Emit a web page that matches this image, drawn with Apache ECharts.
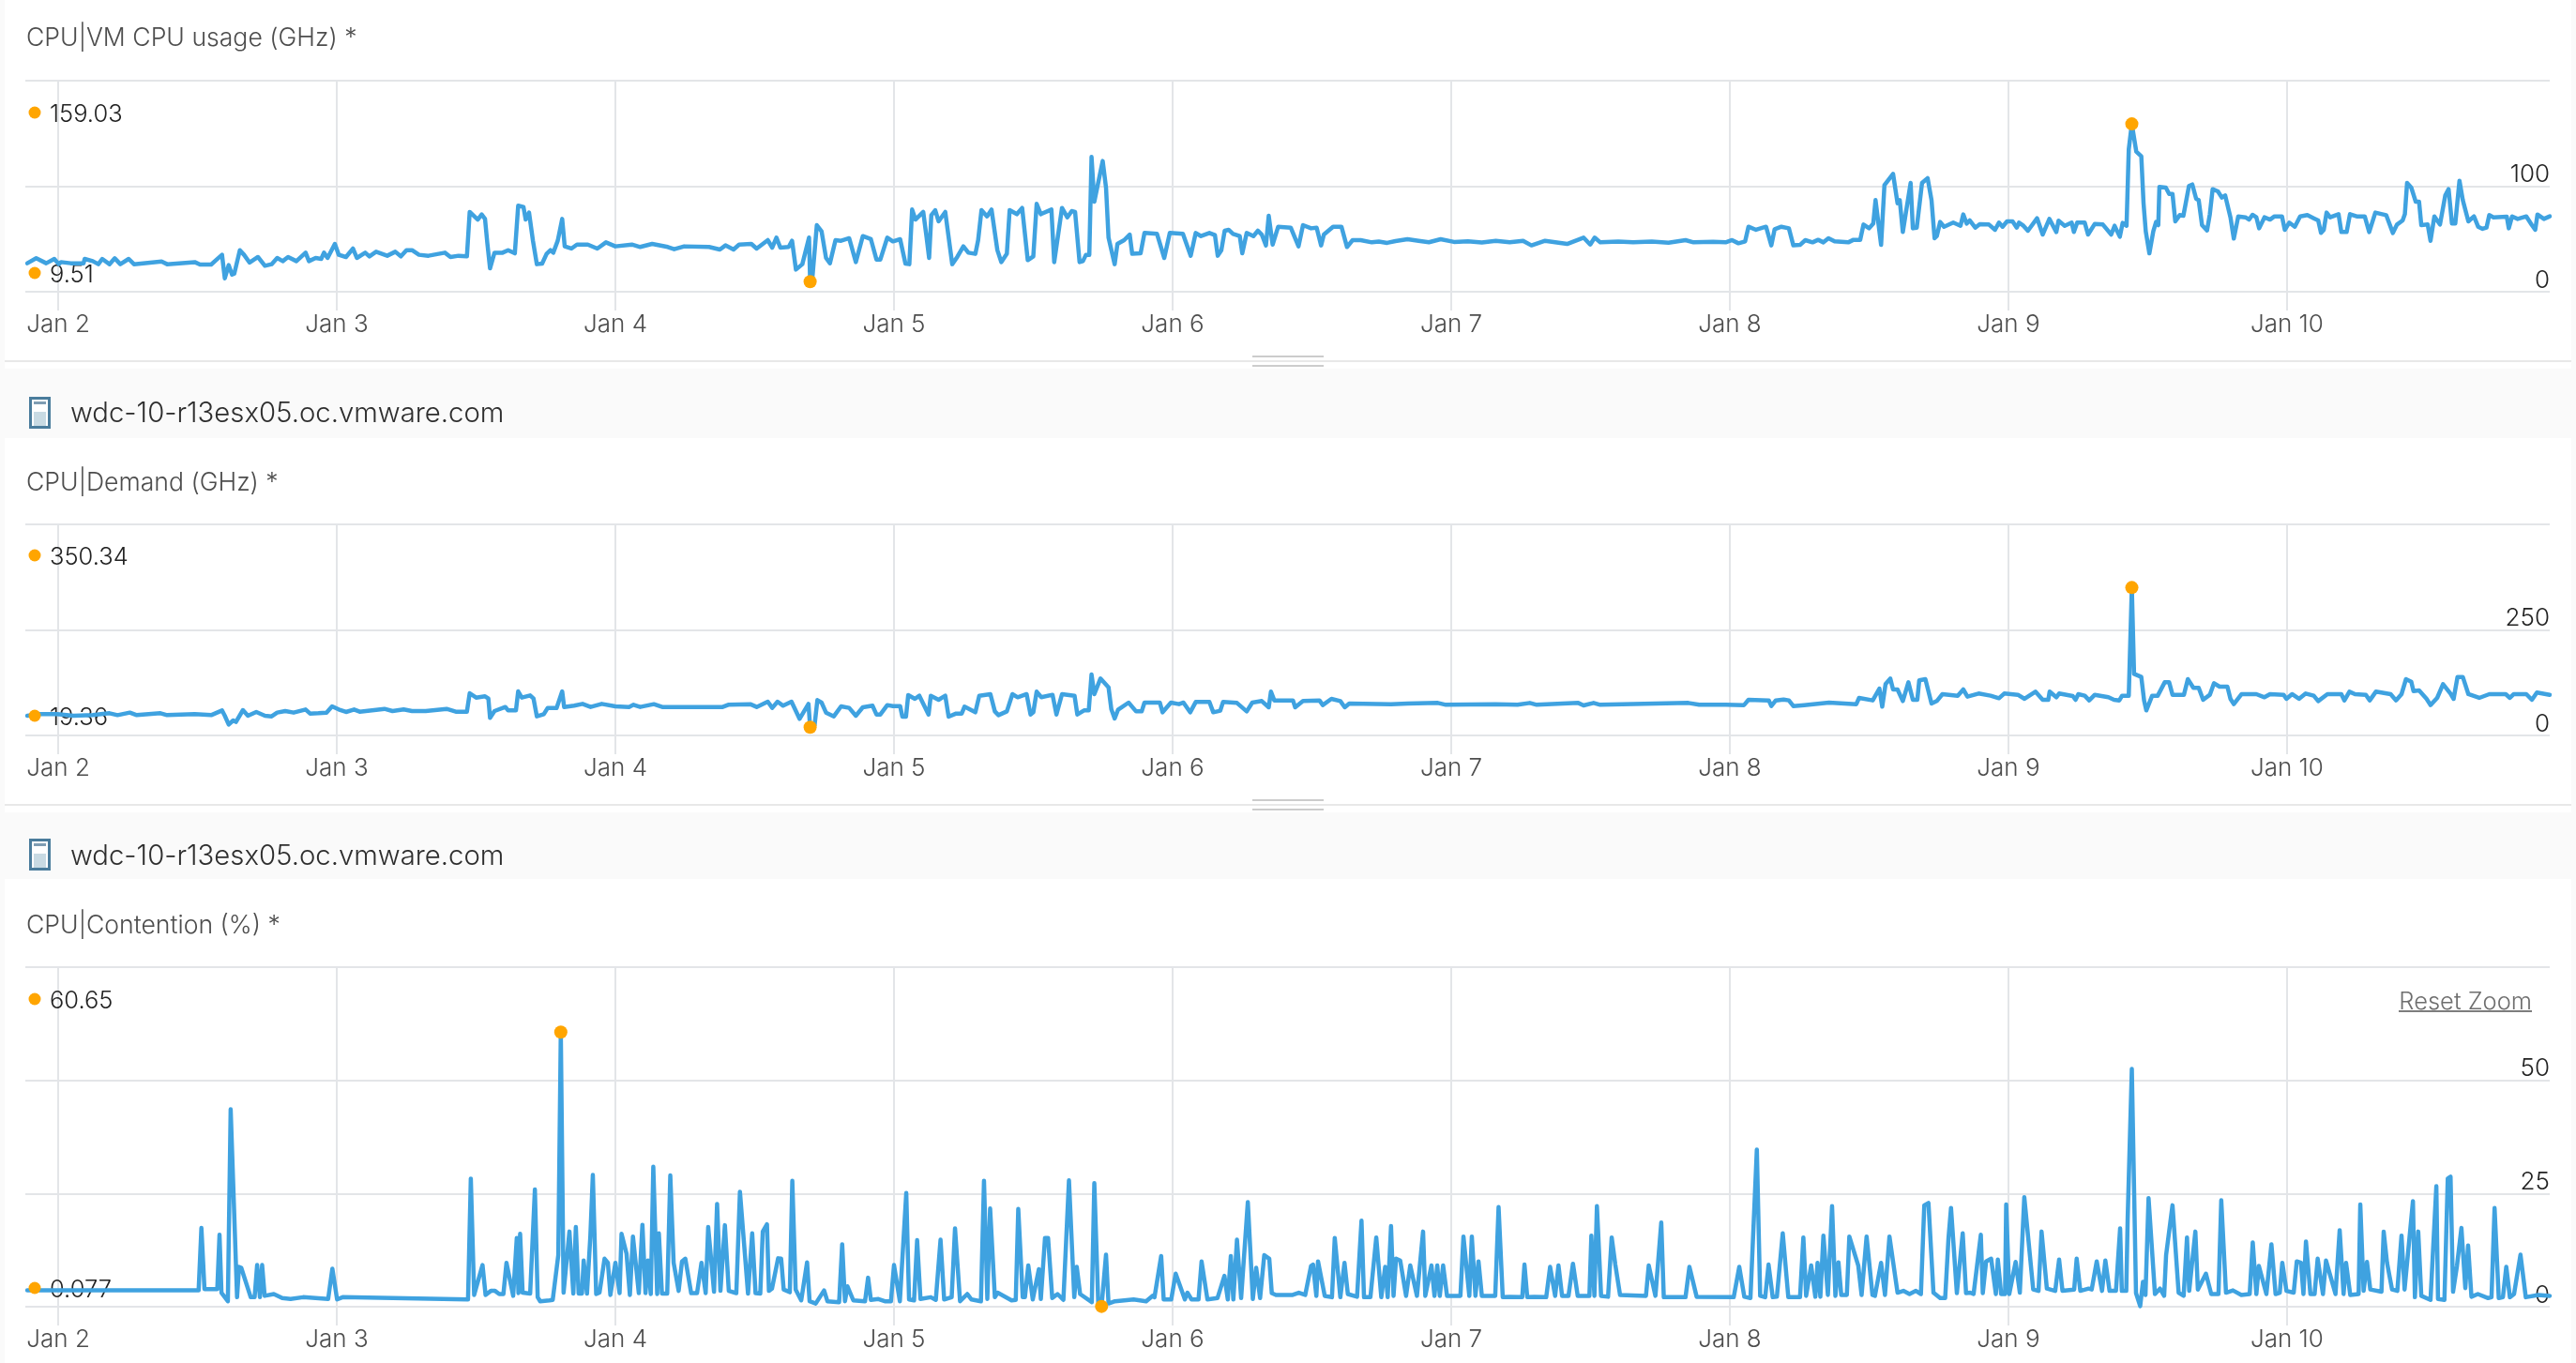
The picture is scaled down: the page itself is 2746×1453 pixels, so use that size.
<!DOCTYPE html>
<html>
<head>
<meta charset="utf-8">
<title>Host CPU metrics</title>
<style>
  html, body { margin: 0; padding: 0; background: #fafafa; }
  #chart { width: 2746px; height: 1453px; }
</style>
<script src="https://cdn.jsdelivr.net/npm/echarts@6/dist/echarts.min.js"></script>
</head>
<body>
<div id="chart"></div>
<script>
// Day ticks along the shared time range. Times below are days after Jan 2 00:00.
const dayTicks = [0, 1, 2, 3, 4, 5, 6, 7, 8];
const dayLabels = ['Jan 2', 'Jan 3', 'Jan 4', 'Jan 5', 'Jan 6', 'Jan 7', 'Jan 8', 'Jan 9', 'Jan 10'];
const rangeStart = -0.118;
const rangeEnd = 8.943;

const hostName = 'wdc-10-r13esx05.oc.vmware.com';

// CPU|VM CPU usage (GHz): [day, value]
const vmCpuUsage = [
[-0.111,27.0],[-0.079,31.7],[-0.043,27.0],[-0.014,31.1],[0.002,26.1],[0.010,28.1],[0.045,27.0],[0.091,27.0],[0.095,31.1],[0.124,29.0],[0.144,26.1],[0.158,31.1],[0.184,26.1],[0.203,31.7],[0.223,26.1],[0.253,31.1],[0.272,26.1],[0.371,28.7],[0.391,26.1],[0.490,28.1],[0.509,25.8],[0.549,25.8],[0.569,30.5],[0.588,35.0],[0.598,12.7],[0.612,25.2],[0.624,16.3],[0.632,17.2],[0.652,39.4],[0.667,35.0],[0.687,27.6],[0.717,32.9],[0.742,24.6],[0.766,26.1],[0.786,32.0],[0.806,29.0],[0.825,32.9],[0.855,29.0],[0.888,37.0],[0.900,29.0],[0.924,32.0],[0.944,31.1],[0.954,37.0],[0.967,32.0],[0.993,45.3],[1.007,35.0],[1.033,32.9],[1.058,40.9],[1.072,32.0],[1.102,37.0],[1.117,33.5],[1.141,37.9],[1.181,34.1],[1.210,37.9],[1.230,33.5],[1.250,39.4],[1.270,39.4],[1.295,35.0],[1.329,34.1],[1.388,37.0],[1.408,32.9],[1.437,34.1],[1.467,33.5],[1.477,75.6],[1.506,68.4],[1.520,73.2],[1.532,69.0],[1.540,46.8],[1.550,22.2],[1.566,37.0],[1.595,37.0],[1.615,39.4],[1.639,36.4],[1.651,81.5],[1.670,80.3],[1.678,68.4],[1.690,75.0],[1.704,48.3],[1.718,26.1],[1.737,26.7],[1.753,35.9],[1.767,39.4],[1.777,37.0],[1.793,48.3],[1.809,69.0],[1.818,43.0],[1.842,40.9],[1.862,44.7],[1.901,44.7],[1.935,40.9],[1.966,46.8],[2.000,43.0],[2.059,44.7],[2.089,42.4],[2.132,45.3],[2.188,42.4],[2.211,40.3],[2.247,43.0],[2.336,42.4],[2.375,40.0],[2.395,43.9],[2.424,40.0],[2.444,44.7],[2.488,45.3],[2.507,40.9],[2.547,48.9],[2.563,41.8],[2.578,51.3],[2.592,41.8],[2.622,42.4],[2.634,48.3],[2.648,21.0],[2.671,26.1],[2.695,51.3],[2.699,9.51],[2.707,13.3],[2.723,63.1],[2.740,57.2],[2.756,32.0],[2.770,27.0],[2.790,48.9],[2.810,48.3],[2.839,50.7],[2.863,28.1],[2.888,52.7],
[2.917,49.8],[2.937,30.5],[2.951,30.5],[2.976,51.3],[2.996,47.7],[3.022,49.8],[3.041,26.7],[3.055,26.1],[3.065,77.9],[3.077,68.4],[3.105,75.6],[3.117,51.3],[3.126,32.0],[3.134,72.6],[3.148,77.3],[3.160,66.7],[3.184,75.6],[3.209,26.1],[3.227,32.9],[3.249,43.0],[3.267,37.0],[3.292,35.9],[3.302,48.9],[3.314,77.3],[3.334,71.4],[3.350,77.9],[3.371,39.4],[3.385,28.1],[3.405,35.9],[3.415,77.3],[3.441,73.5],[3.460,79.4],[3.480,29.9],[3.500,33.5],[3.512,83.3],[3.527,73.5],[3.565,77.9],[3.575,28.1],[3.603,79.4],[3.622,70.5],[3.638,76.4],[3.650,75.6],[3.666,28.1],[3.678,29.0],[3.689,35.0],[3.701,35.0],[3.709,127.7],[3.719,85.3],[3.749,123.9],[3.761,98.7],[3.770,51.3],[3.792,26.1],[3.802,45.3],[3.826,48.9],[3.846,54.2],[3.855,35.9],[3.885,36.4],[3.899,55.7],[3.944,54.8],[3.970,32.0],[3.990,55.7],[4.037,54.8],[4.065,34.1],[4.083,55.7],[4.102,52.7],[4.132,55.7],[4.152,53.6],[4.162,34.1],[4.175,39.4],[4.187,57.8],[4.201,58.7],[4.217,54.8],[4.241,52.7],[4.250,36.4],[4.266,55.7],[4.290,52.7],[4.306,57.8],[4.320,54.2],[4.335,43.9],[4.345,72.0],[4.359,44.7],[4.379,61.6],[4.424,60.7],[4.452,43.0],[4.468,63.1],[4.497,60.1],[4.517,60.7],[4.533,43.9],[4.543,54.2],[4.576,61.6],[4.606,61.6],[4.626,42.4],[4.646,48.9],[4.675,48.9],[4.715,46.8],[4.74,47.6],[4.77,46.3],[4.80,48.0],[4.843,49.8],[4.883,48.3],[4.92,46.9],[4.962,49.8],[5.010,47.2],[5.060,47.7],[5.110,46.6],[5.160,48.2],[5.210,46.8],[5.258,48.3],[5.288,43.9],[5.337,48.3],[5.416,45.3],[5.475,51.3],[5.499,44.7],[5.515,51.3],[5.535,46.8],[5.60,47.6],[5.653,46.8],[5.72,47.5],[5.78,46.4],[5.841,48.9],[5.870,46.8],[5.94,47.4],[5.985,46.8],
[6.008,48.9],[6.031,45.9],[6.055,47.7],[6.067,61.6],[6.094,58.7],[6.130,61.6],[6.149,43.9],[6.161,59.3],[6.185,61.6],[6.212,60.1],[6.228,43.9],[6.252,44.4],[6.271,48.9],[6.297,46.8],[6.317,49.2],[6.336,46.8],[6.354,50.7],[6.376,47.7],[6.425,46.8],[6.444,49.2],[6.468,49.2],[6.480,63.7],[6.500,60.1],[6.515,64.6],[6.523,86.8],[6.543,44.4],[6.555,101.0],[6.586,111.7],[6.602,83.9],[6.610,86.8],[6.621,56.6],[6.649,103.1],[6.657,60.1],[6.671,60.7],[6.690,103.1],[6.710,107.6],[6.724,86.8],[6.735,50.7],[6.743,52.7],[6.755,66.1],[6.769,61.6],[6.802,65.5],[6.828,62.5],[6.838,73.2],[6.850,64.6],[6.861,67.6],[6.881,60.7],[6.897,64.0],[6.930,63.7],[6.952,58.7],[6.966,65.5],[6.979,61.6],[6.995,66.7],[7.015,66.7],[7.030,60.7],[7.038,65.5],[7.054,62.5],[7.070,57.8],[7.103,69.6],[7.123,54.2],[7.147,69.0],[7.172,56.6],[7.180,67.3],[7.202,62.5],[7.227,65.5],[7.235,56.6],[7.247,65.5],[7.274,65.5],[7.286,54.2],[7.310,64.3],[7.339,63.7],[7.369,54.2],[7.381,62.5],[7.400,52.1],[7.410,65.2],[7.424,62.5],[7.432,134.8],[7.443,159.03],[7.459,132.7],[7.477,128.3],[7.485,83.9],[7.493,57.2],[7.506,36.4],[7.520,57.2],[7.530,66.1],[7.538,63.1],[7.542,99.3],[7.565,98.7],[7.577,92.7],[7.589,92.7],[7.599,66.7],[7.615,72.6],[7.628,72.0],[7.648,100.1],[7.660,101.6],[7.674,88.0],[7.683,86.8],[7.695,63.1],[7.713,58.1],[7.723,73.5],[7.733,97.2],[7.752,95.1],[7.766,89.2],[7.778,91.3],[7.797,70.5],[7.809,50.4],[7.825,71.4],[7.851,70.5],[7.864,68.4],[7.876,72.9],[7.890,70.5],[7.900,60.1],[7.919,70.5],[7.939,68.4],[7.955,71.4],[7.982,71.4],[7.992,58.7],[8.008,65.5],[8.028,61.6],[8.047,71.4],[8.073,72.6],[8.096,69.6],[8.112,67.6],[8.122,55.7],[8.132,58.7],[8.142,75.0],[8.155,70.5],[8.185,73.5],[8.195,56.6],[8.214,56.6],[8.226,73.5],[8.250,71.4],[8.279,71.4],[8.295,56.6],[8.317,75.0],[8.356,72.6],[8.380,55.7],[8.395,63.7],[8.415,67.6],[8.423,73.5],[8.431,103.1],[8.446,98.7],[8.462,85.3],[8.474,85.3],[8.482,63.1],[8.505,63.7],[8.515,48.3],[8.529,71.4],[8.549,63.7],[8.568,91.3],[8.580,97.2],[8.592,64.6],[8.604,64.6],[8.619,105.2],[8.631,86.8],[8.651,66.7],[8.671,71.4],[8.686,61.6],[8.702,59.6],[8.716,60.7],[8.726,72.6],[8.741,70.5],[8.789,71.1],[8.796,60.1],[8.808,71.4],[8.828,69.0],[8.859,71.4],[8.879,63.1],[8.891,58.7],[8.899,73.2],[8.922,69.0],[8.943,71.4]
];

// CPU|Demand (GHz): [day, value]
const cpuDemand = [
[-0.111,46.7],[-0.063,50.4],[-0.004,50.4],[0.055,46.7],[0.124,48.1],[0.184,52.6],[0.213,48.1],[0.257,54.1],[0.282,48.1],[0.367,52.6],[0.391,48.1],[0.490,50.4],[0.549,48.1],[0.588,59.3],[0.598,46.7],[0.612,25.9],[0.628,35.6],[0.638,31.9],[0.663,60.0],[0.681,46.7],[0.711,55.6],[0.742,46.7],[0.766,45.2],[0.786,54.1],[0.815,57.8],[0.845,54.1],[0.888,61.5],[0.904,51.9],[0.934,52.6],[0.963,54.1],[0.983,68.9],[1.007,61.5],[1.033,55.6],[1.062,61.5],[1.082,56.3],[1.171,63.0],[1.200,57.8],[1.240,61.5],[1.270,57.8],[1.319,57.8],[1.394,63.0],[1.427,56.3],[1.467,56.3],[1.477,100.0],[1.500,89.6],[1.532,92.6],[1.544,87.4],[1.550,41.5],[1.566,57.8],[1.605,67.4],[1.615,59.3],[1.643,59.3],[1.651,104.4],[1.664,89.6],[1.694,94.8],[1.706,87.4],[1.718,45.2],[1.743,50.4],[1.757,65.2],[1.789,65.2],[1.809,104.4],[1.816,67.4],[1.852,70.4],[1.882,74.8],[1.911,67.4],[1.951,74.8],[2.000,68.9],[2.049,67.4],[2.065,72.6],[2.089,67.4],[2.138,74.1],[2.168,67.4],[2.385,67.4],[2.405,72.6],[2.484,74.1],[2.507,67.4],[2.547,80.0],[2.563,65.2],[2.582,80.0],[2.602,70.4],[2.632,80.0],[2.661,39.3],[2.693,74.8],[2.699,19.36],[2.715,24.4],[2.725,83.7],[2.740,77.8],[2.756,54.1],[2.784,45.2],[2.810,68.9],[2.839,65.2],[2.863,46.7],[2.888,66.7],
[2.923,70.4],[2.937,49.6],[2.951,49.6],[2.976,71.9],[2.996,69.6],[3.022,69.6],[3.030,44.4],[3.043,44.4],[3.051,95.6],[3.075,86.7],[3.091,94.1],[3.124,49.6],[3.132,94.1],[3.160,84.4],[3.184,94.1],[3.196,44.4],[3.223,51.9],[3.243,51.9],[3.253,68.1],[3.292,54.8],[3.306,94.1],[3.346,97.8],[3.362,57.0],[3.375,48.1],[3.405,57.0],[3.425,97.8],[3.444,90.4],[3.476,97.8],[3.490,49.6],[3.500,54.8],[3.512,103.7],[3.529,90.4],[3.569,96.3],[3.583,49.6],[3.603,97.8],[3.648,94.1],[3.658,49.6],[3.682,59.3],[3.699,59.3],[3.709,144.4],[3.719,97.8],[3.741,134.8],[3.770,114.1],[3.780,62.2],[3.792,40.0],[3.804,60.7],[3.842,77.8],[3.869,57.0],[3.889,57.0],[3.899,77.8],[3.954,77.8],[3.964,54.8],[3.994,77.8],[4.023,74.1],[4.039,77.8],[4.063,54.8],[4.083,79.3],[4.132,79.3],[4.146,54.8],[4.171,58.5],[4.181,79.3],[4.231,77.0],[4.266,57.0],[4.286,77.8],[4.320,81.5],[4.345,66.7],[4.353,103.7],[4.365,83.0],[4.432,83.0],[4.440,66.7],[4.468,81.5],[4.527,83.0],[4.539,71.9],[4.570,86.7],[4.602,81.5],[4.618,66.7],[4.634,75.6],[4.784,74.1],[4.843,75.6],[4.952,77.0],[4.981,72.6],[5.159,74.1],[5.238,72.6],[5.282,77.0],[5.307,72.6],[5.456,77.0],[5.475,71.1],[5.511,77.0],[5.535,72.6],[5.851,77.0],[5.890,72.6],[5.985,72.6],
[6.051,71.9],[6.067,84.4],[6.140,83.0],[6.149,69.6],[6.165,83.0],[6.193,85.2],[6.212,83.0],[6.228,69.6],[6.267,71.9],[6.356,77.8],[6.454,74.1],[6.464,88.9],[6.513,83.0],[6.537,111.1],[6.547,68.1],[6.559,121.5],[6.576,134.8],[6.586,108.9],[6.602,108.9],[6.621,81.5],[6.641,125.9],[6.657,84.4],[6.673,84.4],[6.680,130.4],[6.702,133.3],[6.724,75.6],[6.743,81.5],[6.763,97.8],[6.818,94.1],[6.838,108.9],[6.853,91.9],[6.893,99.3],[6.936,94.1],[6.966,88.1],[6.985,99.3],[7.034,96.3],[7.058,86.7],[7.097,103.7],[7.123,84.4],[7.143,84.4],[7.148,103.7],[7.172,90.4],[7.182,99.3],[7.231,93.3],[7.241,84.4],[7.251,97.8],[7.274,94.1],[7.290,83.0],[7.310,96.3],[7.359,90.4],[7.379,84.4],[7.398,83.0],[7.408,94.1],[7.432,94.1],[7.443,350.34],[7.451,145.9],[7.477,138.5],[7.487,83.0],[7.495,59.3],[7.516,94.1],[7.536,94.1],[7.561,125.9],[7.577,125.9],[7.589,96.3],[7.630,96.3],[7.644,133.3],[7.664,112.6],[7.683,112.6],[7.699,84.4],[7.723,96.3],[7.738,123.7],[7.758,115.6],[7.786,115.6],[7.797,86.7],[7.809,74.1],[7.837,97.8],[7.890,97.8],[7.919,90.4],[7.939,97.8],[7.988,96.3],[7.998,86.7],[8.018,97.8],[8.043,86.7],[8.067,99.3],[8.096,94.1],[8.112,81.5],[8.145,97.8],[8.195,97.8],[8.206,83.0],[8.224,103.7],[8.244,97.8],[8.283,96.3],[8.297,83.0],[8.319,103.7],[8.372,97.8],[8.391,83.0],[8.411,97.8],[8.427,133.3],[8.446,127.4],[8.454,105.2],[8.474,106.7],[8.501,86.7],[8.515,71.9],[8.539,88.9],[8.560,121.5],[8.588,97.8],[8.598,86.7],[8.612,138.5],[8.631,138.5],[8.651,97.8],[8.690,88.9],[8.726,97.8],[8.785,97.8],[8.800,88.9],[8.814,97.8],[8.859,97.8],[8.879,84.4],[8.897,101.5],[8.943,96.3]
];

// CPU|Contention (%): [day, value]
const cpuContention = [
[-0.111,3.6],[0.504,3.6],[0.514,17.4],[0.525,3.9],[0.571,3.9],[0.579,15.9],[0.586,3.1],[0.609,1.2],[0.619,43.6],[0.642,2.1],[0.649,8.8],[0.657,8.6],[0.691,2.1],[0.705,2.1],[0.714,9.2],[0.724,2.1],[0.732,9.2],[0.741,2.4],[0.774,2.8],[0.804,1.9],[0.834,1.7],[0.879,2.1],[0.969,1.7],[0.984,8.4],[1.001,1.6],[1.021,2.1],[1.471,1.6],[1.481,28.3],[1.493,2.6],[1.523,9.2],[1.534,2.6],[1.553,3.5],[1.568,3.5],[1.583,2.8],[1.598,2.8],[1.609,9.7],[1.633,2.4],[1.646,15.2],[1.652,3.0],[1.658,16.1],[1.667,3.1],[1.694,2.9],[1.711,25.9],[1.721,2.1],[1.730,1.2],[1.763,1.4],[1.775,1.5],[1.795,11.4],[1.804,60.65],[1.814,3.1],[1.835,16.6],[1.849,2.9],[1.858,17.6],[1.868,2.9],[1.880,2.9],[1.886,10.2],[1.898,2.9],[1.910,15.5],[1.919,29.1],[1.931,2.8],[1.943,3.1],[1.961,10.6],[1.973,9.7],[1.982,2.6],[2.000,9.7],[2.006,9.7],[2.015,3.0],[2.022,16.1],[2.040,11.7],[2.052,2.6],[2.063,15.5],[2.084,3.0],[2.097,18.1],[2.108,3.0],[2.117,10.2],[2.127,2.8],[2.136,30.9],[2.150,2.8],
[2.156,16.2],[2.167,2.9],[2.186,2.9],[2.197,29.0],[2.209,9.7],[2.227,3.5],[2.239,10.0],[2.251,10.6],[2.272,3.0],[2.293,3.0],[2.309,9.7],[2.324,3.0],[2.333,17.6],[2.354,3.3],[2.365,22.7],[2.377,3.5],[2.393,18.0],[2.407,3.5],[2.434,3.0],[2.447,25.4],[2.476,2.9],[2.491,16.2],[2.503,3.0],[2.520,2.9],[2.529,16.6],[2.544,18.2],[2.551,3.5],[2.562,4.0],[2.584,10.7],[2.595,10.6],[2.604,3.8],[2.626,3.2],[2.635,27.8],[2.647,3.8],[2.667,1.4],[2.688,9.8],[2.697,1.2],[2.719,0.7],[2.749,3.6],[2.761,1.2],[2.803,1.0],[2.814,13.8],[2.824,1.2],[2.833,4.5],[2.854,1.4],[2.896,1.2],[2.907,6.4],[2.917,1.5],[2.944,1.7],[2.967,1.2],[2.989,1.2],[3.000,9.2],[3.021,1.2],[3.044,25.1],[3.054,1.6],[3.072,1.4],[3.083,14.7],[3.095,1.7],[3.132,2.1],[3.150,1.5],[3.167,14.8],[3.180,1.6],[3.207,2.1],[3.219,17.3],[3.237,1.2],[3.263,2.8],[3.278,1.6],[3.312,1.2],[3.323,27.8],[3.335,1.7],[3.345,21.7],[3.362,2.1],[3.372,3.1],[3.422,1.4],[3.437,1.5],[3.446,21.6],[3.462,2.1],[3.470,2.1],[3.482,9.1],[3.498,1.6],[3.520,8.3],[3.527,1.7],[3.542,15.2],[3.553,15.2],[3.568,1.9],[3.587,2.8],[3.608,1.5],[3.628,27.9],[3.647,2.1],[3.656,8.8],[3.668,2.8],[3.710,1.0],[3.719,27.3],[3.733,1.0],[3.745,0.077],[3.761,11.5],[3.770,0.7],[3.793,1.2],[3.860,1.6],[3.905,1.2],[3.928,2.4],[3.935,2.1],[3.959,11.2],[3.968,1.6],[3.995,1.6],[4.011,7.3],[4.044,1.6],[4.053,3.1],[4.068,1.6],[4.093,1.6],[4.104,10.0],[4.125,1.6],[4.161,1.9],[4.186,6.8],[4.198,1.6],[4.209,11.2],[4.218,1.6],[4.231,14.8],[4.246,1.9],[4.270,23.1],[4.288,1.7],[4.300,8.6],[4.314,1.9],[4.329,11.4],[4.347,10.6],[4.356,3.0],[4.371,2.6],[4.431,2.6],[4.453,3.1],[4.476,2.6],[4.497,9.0],
[4.504,9.3],[4.516,2.4],[4.522,10.0],[4.546,2.4],[4.572,2.1],[4.582,15.2],[4.602,2.1],[4.617,9.7],[4.629,2.8],[4.662,2.2],[4.678,19.0],[4.687,2.1],[4.710,2.1],[4.731,15.3],[4.749,2.1],[4.763,8.8],[4.772,2.1],[4.784,17.8],[4.793,2.4],[4.802,10.6],[4.817,10.2],[4.838,2.4],[4.853,9.1],[4.877,2.4],[4.899,16.6],[4.907,2.4],[4.929,9.1],[4.940,2.4],[4.950,9.1],[4.959,2.4],[4.971,9.1],[4.985,2.4],[5.033,2.4],[5.044,15.5],[5.065,2.4],[5.074,15.5],[5.087,2.4],[5.098,10.0],[5.110,2.4],[5.158,2.4],[5.170,22.0],[5.185,2.1],[5.210,2.2],[5.255,2.1],[5.263,9.3],[5.273,2.1],[5.298,2.2],[5.341,2.1],[5.355,8.8],[5.373,2.4],[5.385,9.1],[5.398,2.4],[5.421,2.4],[5.437,9.5],[5.454,2.4],[5.496,2.4],[5.503,15.7],[5.514,2.4],[5.523,22.2],[5.538,2.4],[5.563,2.2],[5.576,15.3],[5.589,9.3],[5.606,2.6],[5.699,2.4],[5.709,9.1],[5.733,2.4],[5.754,18.6],[5.763,2.1],[5.841,2.1],[5.855,8.8],[5.881,2.2],[6.014,2.1],[6.034,8.8],[6.052,2.2],[6.074,1.9],[6.097,34.7],[6.109,2.4],[6.127,2.1],[6.139,9.3],[6.154,2.1],[6.169,2.2],[6.190,16.2],[6.210,2.1],[6.252,2.1],[6.264,15.3],[6.274,2.4],[6.292,9.1],[6.307,2.2],[6.315,9.7],[6.325,2.2],[6.336,15.7],[6.352,2.6],[6.367,22.2],[6.379,2.4],[6.390,9.8],[6.400,2.6],[6.420,2.6],[6.429,15.5],[6.461,9.1],[6.473,2.6],[6.491,15.5],[6.512,2.6],[6.521,2.4],[6.543,9.7],[6.557,2.6],[6.573,15.5],[6.602,3.1],[6.623,3.5],[6.645,2.8],[6.668,3.5],[6.686,2.8],[6.698,22.4],[6.713,22.9],[6.731,3.1],[6.755,1.9],[6.773,1.9],[6.785,15.2],[6.794,21.8],[6.815,3.0],[6.836,16.2],[6.848,3.0],
[6.863,3.1],[6.875,2.8],[6.901,15.9],[6.908,3.0],[6.920,10.0],[6.938,10.6],[6.955,2.8],[6.962,10.4],[6.974,2.8],[6.988,2.8],[6.992,22.6],[7.003,2.8],[7.026,9.9],[7.041,3.1],[7.057,24.2],[7.089,3.8],[7.108,3.5],[7.119,16.6],[7.138,4.0],[7.168,3.5],[7.182,10.4],[7.194,3.5],[7.236,3.8],[7.245,10.6],[7.258,3.5],[7.288,4.0],[7.299,3.8],[7.317,10.0],[7.336,3.5],[7.348,10.2],[7.363,3.5],[7.386,3.5],[7.401,17.3],[7.407,3.5],[7.423,3.5],[7.428,19.3],[7.443,52.5],[7.458,3.0],[7.473,0.14],[7.483,5.5],[7.492,2.6],[7.503,24.0],[7.526,2.8],[7.544,4.0],[7.559,2.4],[7.566,11.4],[7.589,22.4],[7.611,3.1],[7.629,2.4],[7.641,15.3],[7.649,3.5],[7.671,16.6],[7.680,3.8],[7.709,7.3],[7.728,2.8],[7.754,2.8],[7.764,23.5],[7.781,3.1],[7.806,3.6],[7.836,2.6],[7.866,2.8],[7.877,14.2],[7.890,2.8],[7.899,9.0],[7.926,2.8],[7.944,13.8],[7.959,2.8],[7.974,3.1],[7.983,9.7],[7.998,3.5],[8.024,3.1],[8.035,10.0],[8.050,9.7],[8.059,2.8],[8.068,14.4],[8.084,2.8],[8.099,2.8],[8.110,10.6],[8.129,2.8],[8.140,10.2],[8.174,2.8],[8.189,16.9],[8.203,2.8],[8.212,9.7],[8.227,2.6],[8.257,2.8],[8.263,22.6],[8.275,3.5],[8.287,9.9],[8.299,3.8],[8.339,3.3],[8.347,16.6],[8.359,9.7],[8.377,3.8],[8.396,3.5],[8.411,15.7],[8.422,3.8],[8.452,23.3],[8.459,2.1],[8.471,16.6],[8.482,2.4],[8.515,1.5],[8.536,26.6],[8.542,1.7],[8.565,1.5],[8.577,28.3],[8.587,28.7],[8.596,3.3],[8.610,9.0],[8.626,17.4],[8.640,4.1],[8.650,13.5],[8.662,2.2],[8.685,2.8],[8.722,1.9],[8.734,2.1],[8.745,21.8],[8.760,1.9],[8.775,2.1],[8.787,8.8],[8.800,2.1],[8.815,2.8],[8.838,11.5],[8.857,2.1],[8.902,2.6],[8.943,2.4]
];

// One panel per metric: title, vertical scale and the figures shown beside the dots.
const panels = [
  { title: 'CPU|VM CPU usage (GHz) *', data: vmCpuUsage, yMax: 200, yStep: 100, maxText: '159.03', minText: '9.51',
    top: 86, height: 225, titleY: 41, maxY: 120, minY: 291 },
  { title: 'CPU|Demand (GHz) *', data: cpuDemand, yMax: 500, yStep: 250, maxText: '350.34', minText: '19.36',
    top: 559, height: 225, titleY: 515, maxY: 592, minY: 763 },
  { title: 'CPU|Contention (%) *', data: cpuContention, yMax: 75, yStep: 25, maxText: '60.65', minText: '0.077',
    top: 1031, height: 362, titleY: 987, maxY: 1065, minY: 1373 }
];

const FONT = 'Inter';
const WEIGHT = 300;
const LINE = '#3fa2e0';
const DOT = '#ffa500';
const GRID = '#e3e5e8';
const PLOT_LEFT = 27;
const PLOT_RIGHT = 2718;

function textEl(text, x, y, size, fill, align) {
  return { type: 'text', z: 1, style: { text, x, y, fill, font: `${WEIGHT} ${size}px ${FONT}`, textAlign: align || 'left', textVerticalAlign: 'middle' } };
}
function rectEl(x, y, width, height, fill, z) {
  return { type: 'rect', z: z === undefined ? 0 : z, silent: true, shape: { x, y, width, height }, style: { fill } };
}

// Page chrome: white cards, the host banners, dividers and drag handles.
function hostIcon(top) {
  return [
    rectEl(31, top, 23, 34, '#4a7c9c'),
    rectEl(34, top + 3, 17, 28, '#ffffff', 1),
    rectEl(36, top + 5, 13, 3, '#7f9db3', 2),
    rectEl(36, top + 16, 13, 15, '#c8dae3', 2)
  ];
}
const chrome = [
  rectEl(5, 0, 2736, 1453, '#ffffff'),
  rectEl(5, 393, 2736, 74, '#fafafa'),
  rectEl(5, 866, 2736, 71, '#fafafa'),
  rectEl(5, 384, 2736, 2, '#e8e8e8', 1),
  rectEl(5, 857, 2736, 2, '#e8e8e8', 1),
  rectEl(1335, 379, 76, 2, '#cccccc', 2),
  rectEl(1335, 389, 76, 2, '#cccccc', 2),
  rectEl(1335, 852, 76, 2, '#cccccc', 2),
  rectEl(1335, 862, 76, 2, '#cccccc', 2),
  ...hostIcon(423), ...hostIcon(894),
  textEl(hostName, 75, 441, 29.3, '#2e2e2e'),
  textEl(hostName, 75, 913, 29.3, '#2e2e2e'),
  textEl('Reset Zoom', 2699, 1068, 25.5, '#6e6e6e', 'right'),
  rectEl(2557, 1077, 142, 2, '#7d7d7d', 1)
];

const option = {
  animation: false,
  backgroundColor: '#fafafa',
  graphic: { elements: chrome.concat(panels.flatMap(p => [
    textEl(p.title, 28, p.titleY, 26.6, '#4d4d4d'),
    { type: 'circle', z: 10, silent: true, shape: { cx: 37, cy: p.maxY, r: 6.5 }, style: { fill: DOT } },
    { type: 'circle', z: 10, silent: true, shape: { cx: 37, cy: p.minY, r: 6.5 }, style: { fill: DOT } },
    textEl(p.maxText, 53, p.maxY + 2, 25.5, '#222222'),
    textEl(p.minText, 53, p.minY + 2, 25.5, '#222222')
  ])) },
  grid: panels.map(p => ({
    left: PLOT_LEFT, right: 2746 - PLOT_RIGHT, top: p.top, height: p.height, containLabel: false
  })),
  xAxis: panels.map((p, i) => ({
    type: 'value', gridIndex: i, min: rangeStart, max: rangeEnd,
    axisLine: { show: false },
    axisTick: { show: true, length: 20, customValues: dayTicks, lineStyle: { color: GRID, width: 2 } },
    splitLine: { show: true, lineStyle: { color: GRID, width: 2 } },
    axisLabel: {
      customValues: dayTicks,
      formatter: v => dayLabels[dayTicks.indexOf(v)],
      margin: 22, color: '#4d4d4d', fontFamily: FONT, fontWeight: WEIGHT, fontSize: 26
    }
  })),
  yAxis: panels.map((p, i) => ({
    type: 'value', gridIndex: i, position: 'right', min: 0, max: p.yMax, interval: p.yStep,
    axisLine: { show: false }, axisTick: { show: false },
    splitLine: { show: true, lineStyle: { color: GRID, width: 2 } },
    axisLabel: {
      inside: true, margin: 0, showMaxLabel: false, verticalAlign: 'bottom', lineHeight: 24,
      color: '#222222', fontFamily: FONT, fontWeight: WEIGHT, fontSize: 26
    }
  })),
  series: panels.map((p, i) => ({
    type: 'line', xAxisIndex: i, yAxisIndex: i, data: p.data, clip: false,
    showSymbol: false, smooth: false, z: 5,
    lineStyle: { color: LINE, width: 4.5, join: 'round', cap: 'round' },
    itemStyle: { color: LINE },
    markPoint: {
      symbol: 'circle', symbolSize: 14, silent: true, z: 10, label: { show: false },
      itemStyle: { color: DOT },
      data: [{ type: 'max' }, { type: 'min' }]
    }
  }))
};

echarts.init(document.getElementById('chart')).setOption(option);
</script>
</body>
</html>
